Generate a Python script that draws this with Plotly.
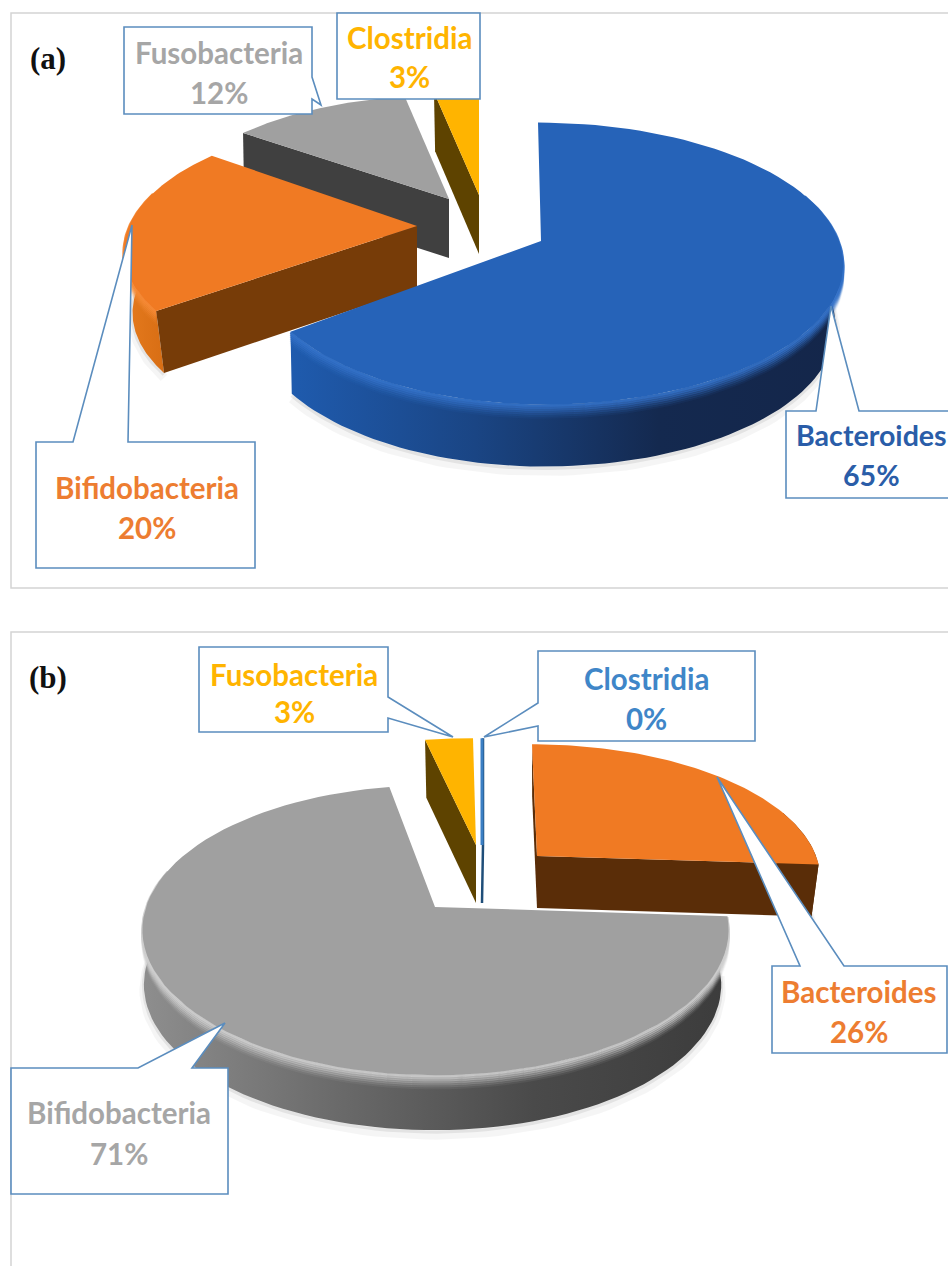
import numpy as np
import plotly.graph_objects as go

# ---------- data ----------
categories = ["Bacteroides", "Bifidobacteria", "Fusobacteria", "Clostridia"]
values_a = [65, 20, 12, 3]
values_b = [26, 71, 3, 0]

# ---------- styles / layout ----------
W, H = 948, 1266
LINE = "#5B8DBE"
FONT = "Lato"

# sl / sr: how much narrower the base of a slice is than its top, left and right
geom_a = {
    3: dict(apex=(479, 195), rxl=285, rxr=285, ry=124, p=.16, d=59, sl=.975, sr=.975, top="#FFB400", face="#5E4300", wall=["#5E4300", "#5E4300"], bevel=None),
    2: dict(apex=(449, 199), rxl=281, rxr=281, ry=124, p=.16, d=59, sl=.995, sr=.975, top="#A0A0A0", face="#404040", wall=["#505050", "#404040"], bevel=None),
    1: dict(apex=(417, 226), rxl=288, rxr=288, ry=132, p=.16, d=62, sl=.97, sr=.975, sk=10, top="#F07A23", face="#773C08", wall=["#E57A1E", "#D86E14"], bevel="#F58A36"),
    0: dict(apex=(541, 241), rxl=285, rxr=298, ry=141, p=.16, d=62, sl=.995, sr=.975, sk=-3, top="#2663B8", face="#1A4585", wall=["#1F5BAE", "#1A4584", "#14294F", "#14264A"], bevel="#3472C8"),
}
order_a = [3, 2, 1, 0]
cuts_a = {3: [0], 2: [0], 1: [0], 0: []}

geom_b = {
    0: dict(apex=(537, 856), rxl=279, rxr=279, ry=133, p=.16, d=52, sl=.975, sr=.975, sk=-5, top="#F07A23", face="#5A2D08", wall=["#5A2D08", "#5A2D08"], bevel=None),
    3: dict(apex=(482, 845), rxl=291, rxr=291, ry=127, p=.16, d=58, sl=.975, sr=.975, top="#3B7FC4", face="#1F4E79", wall=["#1F4E79", "#1F4E79"], bevel=None),
    2: dict(apex=(476, 845), rxl=304, rxr=304, ry=127, p=.16, d=58, sl=.975, sr=.975, sk=-3, top="#FFB400", face="#5E4300", wall=["#5E4300", "#5E4300"], bevel=None),
    1: dict(apex=(435, 907), rxl=289, rxr=290, ry=145, p=.16, d=55, sl=.995, sr=.975, top="#A0A0A0", face="#404040", wall=["#8E8E8E", "#6A6A6A", "#4A4A4A", "#3C3C3C"], bevel="#CFCFCF"),
}
order_b = [0, 3, 2, 1]
cuts_b = {0: [0, 1], 3: [0], 2: [0], 1: []}


def rim(g, t):
    t = np.radians(np.asarray(t, dtype=float))
    u, v = np.sin(t), np.cos(t)
    f = 1 - g["p"] * v
    rx = np.where(u > 0, g["rxr"], g["rxl"])
    return g["apex"][0] + rx * u * f + g.get("sk", 0) * v, g["apex"][1] - g["ry"] * v * f


def base(g, x, y):
    dx = x - g["apex"][0]
    return g["apex"][0] + dx * np.where(dx > 0, g["sr"], g["sl"]), y + g["d"]


def poly(xs, ys, color=None, gradient=None):
    kw = dict(x=list(xs), y=list(ys), mode="lines", fill="toself", line=dict(width=0),
              hoverinfo="skip", showlegend=False)
    if gradient:
        stops = np.linspace(0, 1, len(gradient))
        kw["fillgradient"] = dict(type="horizontal", colorscale=[[float(s), c] for s, c in zip(stops, gradient)])
    else:
        kw["fillcolor"] = color
    return go.Scatter(**kw)


def stroke(xs, ys, color, width):
    return go.Scatter(x=list(xs), y=list(ys), mode="lines", line=dict(color=color, width=width),
                      hoverinfo="skip", showlegend=False)


def rgba(hexc, a):
    return f"rgba({int(hexc[1:3],16)},{int(hexc[3:5],16)},{int(hexc[5:7],16)},{a})"


def draw_slice(fig, g, t0, t1, cuts):
    ax, ay = g["apex"]
    if t1 == t0:  # a 0 % slice is only a sliver
        px, py = rim(g, [t0])
        fig.add_trace(stroke([px[0] + 1, ax + 1, ax], [py[0], ay, ay + g["d"]], g["face"], 2.5))
        fig.add_trace(stroke([px[0], ax], [py[0], ay], g["top"], 3))
        return
    w0, w1 = max(t0, 70), min(t1, 285)
    if w1 > w0:
        wx, wy = rim(g, np.linspace(w0, w1, 90))
        bx, by = base(g, wx, wy)
        fig.add_trace(stroke(bx, by + 5, "rgba(0,0,0,0.04)", 9))
        fig.add_trace(stroke(bx, by + 1.5, "rgba(0,0,0,0.07)", 4))
        fig.add_trace(poly(np.r_[wx, bx[::-1]], np.r_[wy, by[::-1]], gradient=g["wall"]))
        if g["bevel"]:
            for off, alpha in zip(range(1, 15, 2), (.9, .75, .6, .45, .3, .18, .08)):
                fig.add_trace(stroke(wx, wy + off, rgba(g["bevel"], alpha), 2.5))
    for c in cuts:
        px, py = rim(g, [t1 if c else t0])
        bx, by = base(g, px, py)
        fig.add_trace(poly([ax, px[0], bx[0], ax], [ay, py[0], by[0], ay + g["d"]], color=g["face"]))
    tx, ty = rim(g, np.linspace(t0, t1, 90))
    fig.add_trace(poly(np.r_[ax, tx], np.r_[ay, ty], color=g["top"]))


def draw_panel(fig, values, geom, order, cuts):
    edges = np.r_[0, np.cumsum(values)] * 3.6
    for i in order:
        draw_slice(fig, geom[i], float(edges[i]), float(edges[i + 1]), cuts[i])


fig = go.Figure()
draw_panel(fig, values_a, geom_a, order_a, cuts_a)
draw_panel(fig, values_b, geom_b, order_b, cuts_b)

shapes = [
    dict(type="rect", x0=11, y0=13, x1=960, y1=588, line=dict(color="#D4D4D4", width=1.5), layer="below"),
    dict(type="rect", x0=11, y0=632, x1=960, y1=1290, line=dict(color="#D4D4D4", width=1.5), layer="below"),
]

callouts = [
    [(124, 27), (312, 27), (312, 77), (321, 105), (312, 99), (312, 114), (124, 114)],
    [(337, 13), (480, 13), (480, 99), (337, 99)],
    [(36, 442), (73, 442), (132, 225), (128, 442), (255, 442), (255, 568), (36, 568)],
    [(786, 411), (816, 411), (831, 306), (859, 411), (960, 411), (960, 498), (786, 498)],
    [(199, 647), (388, 647), (388, 697), (453, 737), (388, 718), (388, 732), (199, 732)],
    [(538, 651), (755, 651), (755, 741), (538, 741), (538, 726), (484, 737), (538, 703)],
    [(772, 966), (800, 966), (717, 777), (844, 966), (947, 966), (947, 1053), (772, 1053)],
    [(11, 1068), (138, 1068), (225, 1023), (192, 1068), (228, 1068), (228, 1194), (11, 1194)],
]
for pts in callouts:
    path = "M " + " L ".join(f"{x} {y}" for x, y in pts) + " Z"
    shapes.append(dict(type="path", path=path, fillcolor="white", line=dict(color=LINE, width=1.6), layer="above"))

labels = [
    (2, values_a, 219, 52, 92, "#A6A6A6", 29.5),
    (3, values_a, 409, 37, 76, "#FFB400", 29.5),
    (1, values_a, 147, 487, 527, "#ED7D31", 29.5),
    (0, values_a, 871, 435, 475, "#2A5DA8", 28.6),
    (2, values_b, 294, 674, 711, "#FFB400", 29.5),
    (3, values_b, 646, 678, 718, "#3F86C8", 29.5),
    (0, values_b, 859, 991, 1031, "#ED7D31", 29.5),
    (1, values_b, 119, 1112, 1153, "#A6A6A6", 29.5),
]
annotations = []
for idx, vals, x, y1, y2, col, size in labels:
    for txt, y in ((categories[idx], y1), (f"{vals[idx]}%", y2)):
        annotations.append(dict(x=x, y=y, text=f"<b>{txt}</b>", showarrow=False, xanchor="center", yanchor="middle",
                                font=dict(family=FONT, size=size, color=col)))
for txt, y in (("(a)", 58), ("(b)", 677)):
    annotations.append(dict(x=48, y=y, text=f"<b>{txt}</b>", showarrow=False, xanchor="center", yanchor="middle",
                            font=dict(family="Liberation Serif", size=31, color="#111111")))

fig.update_layout(
    width=W, height=H, margin=dict(l=0, r=0, t=0, b=0), paper_bgcolor="white", plot_bgcolor="white",
    xaxis=dict(range=[0, W], visible=False, fixedrange=True),
    yaxis=dict(range=[H, 0], visible=False, fixedrange=True),
    shapes=shapes, annotations=annotations, showlegend=False,
)
fig.write_html("out.html", config=dict(displayModeBar=False),
               post_script="document.body.style.margin='0';document.body.style.overflow='hidden';")
